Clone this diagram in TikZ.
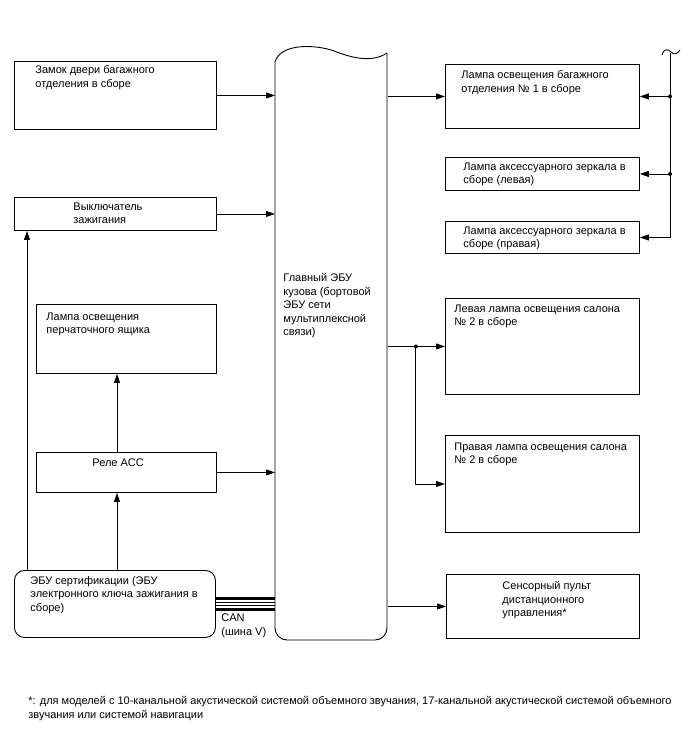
\documentclass[tikz,border=0pt]{standalone}
\usepackage{fontspec}
\setmainfont{Liberation Sans}
\usetikzlibrary{arrows.meta,positioning}

\begin{document}
\begin{tikzpicture}[
    x=1pt, y=-1pt,
    font=\fontsize{11}{13.5}\selectfont,
    line width=0.9pt,
    box/.style={draw, rectangle, anchor=north west, inner sep=0pt},
    txt/.style 2 args={anchor=north west, align=left, inner sep=0pt,
                       xshift=#1, yshift=-#2},
    arrow/.style={-{Triangle[length=9pt, width=6pt]}},
    dot/.style={circle, fill, inner sep=0pt, minimum size=4pt}
]
\useasboundingbox (0,0) rectangle (688,755);

% left column
\node[box, minimum width=202, minimum height=68,
      label={[txt={21}{4}]north west:{Замок двери багажного\\отделения в сборе}}] (lock) at (14,61) {};
\node[box, minimum width=202, minimum height=33,
      label={[txt={59}{5}]north west:{Выключатель\\зажигания}}] (ign) at (14,197) {};
\node[box, minimum width=180, minimum height=69,
      label={[txt={10}{8}]north west:{Лампа освещения\\перчаточного ящика}}] (glove) at (36,304) {};
\node[box, minimum width=180, minimum height=40,
      label={[txt={56}{6}]north west:{Реле ACC}}] (relay) at (36,452) {};
\node[box, rounded corners=10, minimum width=201, minimum height=67,
      label={[txt={16}{6}]north west:{ЭБУ сертификации (ЭБУ\\электронного ключа зажигания в\\сборе)}}] (cert) at (14,570) {};

% body ECU
\node[rectangle, anchor=north west, inner sep=0pt, minimum width=112, minimum height=593,
      label={[txt={8}{226}]north west:{Главный ЭБУ\\кузова (бортовой\\ЭБУ сети\\мультиплексной\\связи)}}] (ecu) at (275,47) {};
\draw (275,62) .. controls (281,42) and (318,45) .. (334,51)
               .. controls (352,58) and (372,63) .. (387,53);
\draw[rounded corners=12] (387,53) -- (387,640) -- (275,640) -- (275,62);

% right column
\node[box, minimum width=194, minimum height=64,
      label={[txt={16}{6}]north west:{Лампа освещения багажного\\отделения № 1 в сборе}}] (trunk) at (445,64) {};
\node[box, minimum width=194, minimum height=33,
      label={[txt={18}{5}]north west:{Лампа аксессуарного зеркала в\\сборе (левая)}}] (mirl) at (445,157) {};
\node[box, minimum width=194, minimum height=32,
      label={[txt={18}{5}]north west:{Лампа аксессуарного зеркала в\\сборе (правая)}}] (mirr) at (445,221) {};
\node[box, minimum width=194, minimum height=96,
      label={[txt={9}{6}]north west:{Левая лампа освещения салона\\№ 2 в сборе}}] (cabl) at (445,298) {};
\node[box, minimum width=194, minimum height=97,
      label={[txt={9}{7}]north west:{Правая лампа освещения салона\\№ 2 в сборе}}] (cabr) at (445,435) {};
\node[box, minimum width=193, minimum height=64,
      label={[txt={56}{7}]north west:{Сенсорный пульт\\дистанционного\\управления*}}] (sensor) at (446,574) {};

% inputs to ECU
\draw[arrow] (lock.east) -- (lock.east -| ecu.west);
\draw[arrow] (ign.east) -- (ign.east -| ecu.west);
\draw[arrow] (relay.east) -- (relay.east -| ecu.west);
\draw[arrow] ([xshift=13]cert.north west) -- ([xshift=13]cert.north west |- ign.south);
\draw[arrow] ([xshift=103]cert.north west) -- ([xshift=103]cert.north west |- relay.south);
\draw[arrow] ([xshift=81]relay.north west) -- ([xshift=81]relay.north west |- glove.south);

% CAN
\foreach \d/\w in {5.3/2.7, 1.4/0.5, -1.3/0.5, -5.2/2.7}
    \draw[line width=\w pt] ([yshift=\d]cert.east) -- ([yshift=\d]cert.east -| ecu.west);
\node[anchor=north west, align=left, inner sep=0pt] (can) at ([xshift=5, yshift=-9.5]cert.east) {CAN\\(шина V)};

% outputs
\draw[arrow] (trunk.west -| ecu.east) -- (trunk.west);
\coordinate (bus) at (670,53);
\draw (662,55) .. controls (664,48) and (668,49) .. (671,52)
               .. controls (674,56) and (678,53) .. (680,50);
\draw[arrow] (bus) -- (bus |- mirr.east) -- (mirr.east);
\draw[arrow] (bus |- trunk.east) -- (trunk.east);
\draw[arrow] (bus |- mirl.east) -- (mirl.east);
\node[dot] at (bus |- trunk.east) {};
\node[dot] at (bus |- mirl.east) {};

\draw[arrow] (cabl.west -| ecu.east) -- (cabl.west);
\path (cabl.west -| ecu.east) ++(28,0) coordinate (split);
\draw[arrow] (split) |- (cabr.west);
\node[dot] at (split) {};
\draw[arrow] (sensor.west -| ecu.east) -- (sensor.west);

% footnote
\node[anchor=north west, align=left, inner sep=0pt] (note) at (28,696)
    {*: для моделей с 10-канальной акустической системой объемного звучания, 17-канальной акустической системой объемного\\звучания или системой навигации};
\end{tikzpicture}
\end{document}
